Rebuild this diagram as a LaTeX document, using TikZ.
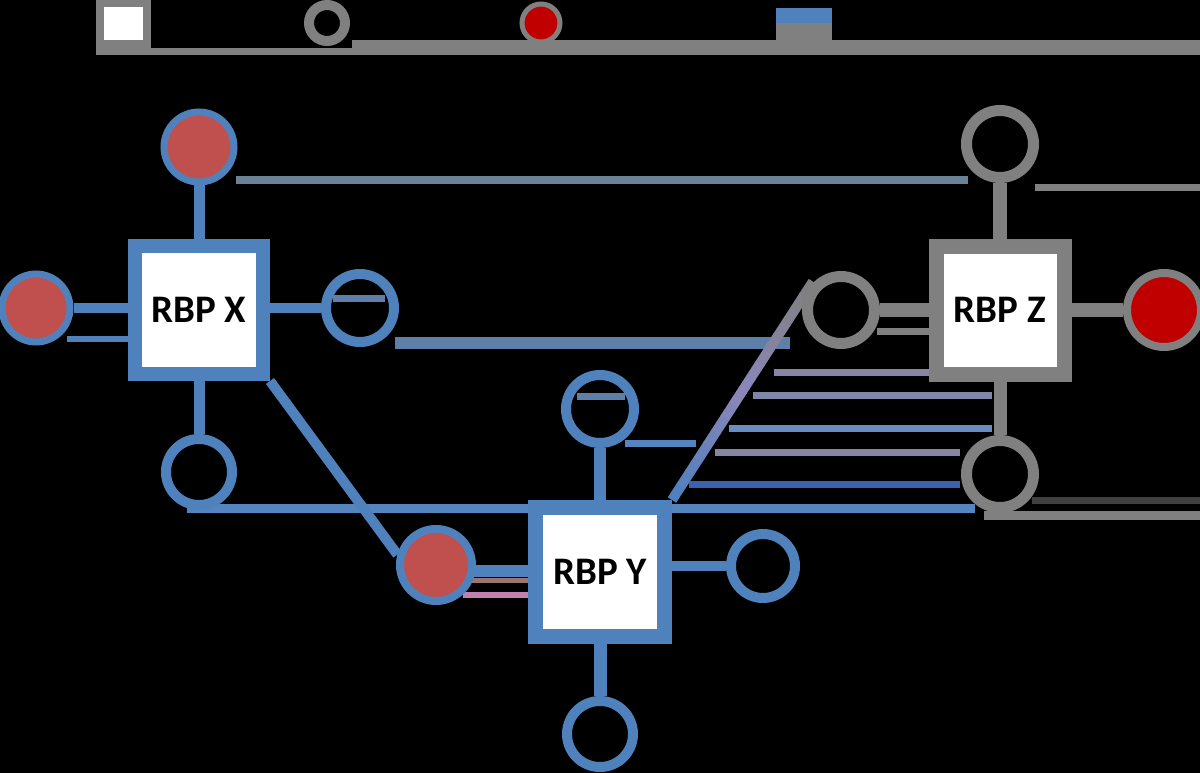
\documentclass[tikz,border=0pt]{standalone}
\usepackage{fontspec}
\setmainfont{Carlito}
\usetikzlibrary{calc}
\definecolor{cblue}{HTML}{4F81BD}
\definecolor{cred}{HTML}{C0504D}
\definecolor{cgray}{HTML}{808080}
\definecolor{zred}{HTML}{C00000}
\definecolor{lav}{HTML}{8A86B8}
\definecolor{gbl}{HTML}{6A8296}
\definecolor{gsl}{HTML}{5E7FA8}
\definecolor{gpu}{HTML}{8585A5}
\definecolor{gpv}{HTML}{7F86A8}
\definecolor{glb}{HTML}{6B8CC0}
\definecolor{gdb}{HTML}{3F5FAF}
\definecolor{gmb}{HTML}{5585BE}
\definecolor{gdk}{HTML}{404040}
\definecolor{gbr}{HTML}{9C7470}
\definecolor{gpk}{HTML}{C080B0}
\pgfdeclarelayer{bgl}
\pgfdeclarelayer{lines}
\pgfsetlayers{bgl,lines,main}
\newcommand\gline[6]{\coordinate (#1a) at (#2,#4); \coordinate (#1b) at (#3,#4); \draw[line width=#5, draw=#6] (#1a) -- (#1b);}
\begin{document}
\begin{tikzpicture}[x=1pt,y=-1pt,
  rbpbox/.style={draw=#1, fill=white, rectangle, minimum size=128, inner sep=0pt, line width=14,
    font=\bfseries\fontsize{39}{39}\selectfont, text=black},
  ring/.style={circle, draw=#1, inner sep=0pt},
  conn/.style={draw=#1, line cap=butt}
]
\begin{pgfonlayer}{bgl}
\fill[black] (0,0) rectangle (1200,773);
\end{pgfonlayer}
\useasboundingbox (0,0) rectangle (1200,773);

% legend
\node[draw=cgray, fill=white, line width=8, minimum width=47, minimum height=41, inner sep=0pt] (lg1) at (123,24) {};
\node[ring=cgray, line width=10, minimum size=36] (lg2) at (327,23) {};
\node[ring=cgray, fill=zred, line width=5, minimum size=38] (lg3) at (541,23) {};
\node[fill=cblue, minimum width=56, minimum height=15, inner sep=0pt] (lg4a) at (804,15.5) {};
\node[fill=cgray, minimum width=56, minimum height=17, inner sep=0pt] (lg4b) at (804,31.5) {};
\fill[cgray] (96,48) rectangle (352,55);
\fill[cgray] (352,40) rectangle (1200,55);

% RBP X
\node[rbpbox=cblue] (X) at (199,310) {RBP X};
\node[ring=cblue, fill=cred, line width=7, minimum size=70] (Xt) at (199,147) {};
\node[ring=cblue, fill=cred, line width=7, minimum size=68] (Xl) at (36,308) {};
\node[ring=cblue, line width=10, minimum size=68] (Xr) at (360,308) {};
\node[ring=cblue, line width=10, minimum size=66] (Xb) at (199,472) {};

% RBP Y
\node[rbpbox=cblue, minimum size=129, line width=15] (Y) at (600,572) {RBP Y};
\node[ring=cblue, line width=10, minimum size=68] (Yt) at (600,409) {};
\node[ring=cblue, fill=cred, line width=8, minimum size=72] (Yl) at (436,565) {};
\node[ring=cblue, line width=10, minimum size=64] (Yr) at (763,566) {};
\node[ring=cblue, line width=10, minimum size=66] (Yb) at (600,734) {};

% RBP Z
\node[rbpbox=cgray, line width=15] (Z) at (1000,310) {RBP Z};
\node[ring=cgray, line width=11, minimum size=67] (Zt) at (1000,144) {};
\node[ring=cgray, line width=11, minimum size=67] (Zl) at (841,310) {};
\node[ring=cgray, fill=zred, line width=8, minimum size=74] (Zr) at (1164,310) {};
\node[ring=cgray, line width=11, minimum size=67] (Zb) at (1000,474) {};

\begin{pgfonlayer}{lines}
% faint horizontal lines
\gline{g1}{236}{968}{180}{8}{gbl}
\gline{g2}{1035}{1200}{188}{7}{cgray}
\gline{g3}{67}{130}{339}{6}{cblue}
\gline{g4}{333}{385}{298}{7}{gsl}
\gline{g5}{395}{790}{343}{12}{gsl}
\gline{g6}{774}{929}{372}{7}{gpu}
\gline{g7}{753}{992}{395}{7}{gpv}
\gline{g7b}{577}{625}{396}{7}{gsl}
\gline{g8}{729}{992}{428}{7}{glb}
\gline{g9}{625}{696}{443}{7}{gmb}
\gline{g10}{715}{960}{452}{7}{gpu}
\gline{g11}{689}{960}{484}{7}{gdb}
\gline{g12}{187}{975}{508}{9}{gmb}
\gline{g13}{1032}{1200}{500}{7}{gdk}
\gline{g14}{984}{1200}{515}{9}{cgray}
\gline{g15}{470}{528}{580}{5}{gbr}
\gline{g16}{463}{528}{595}{6}{gpk}
\gline{g17}{877}{930}{331}{7}{cgray}

% connectors X
\draw[conn=cblue, line width=11] (Xt) -- (X);
\draw[conn=cblue, line width=10] (Xl) -- (Xl -| X.west);
\draw[conn=cblue, line width=10] (Xr) -- (Xr -| X.east);
\draw[conn=cblue, line width=11] (Xb) -- (X);
\draw[conn=cblue, line width=10] (X.south east) -- (Yl.165);

% connectors Y
\draw[conn=cblue, line width=12] (Yt) -- (Y);
\draw[conn=cblue, line width=12] ($(Yl)+(0,6)$) coordinate (ylc) -- (ylc -| Y.west);
\draw[conn=cblue, line width=10] (Yr) -- (Yr -| Y.east);
\draw[conn=cblue, line width=13] (Yb) -- (Y);
\coordinate (dA) at (Y.north east);
\coordinate (dE) at ($(Y.north east)!1.025!(Zl.145)$);
\coordinate (dM) at ($(dA)!0.5!(dE)$);
\foreach \i in {0,...,7} {
  \pgfmathsetmacro\s{\i/8}
  \pgfmathsetmacro\e{(\i+1.05)/8}
  \pgfmathtruncatemacro\p{\i*100/7}
  \draw[line width=10, draw=lav!\p!cblue] ($(dA)!\s!(dM)$) -- ($(dA)!\e!(dM)$);
  \draw[line width=10, draw=cgray!\p!lav] ($(dM)!\s!(dE)$) -- ($(dM)!\e!(dE)$);
}

% connectors Z
\draw[conn=cgray, line width=14] (Zt) -- (Z);
\draw[conn=cgray, line width=14] (Zl) -- (Zl -| Z.west);
\draw[conn=cgray, line width=14] (Zr) -- (Zr -| Z.east);
\draw[conn=cgray, line width=13] (Zb) -- (Z);
\end{pgfonlayer}
\end{tikzpicture}
\end{document}
